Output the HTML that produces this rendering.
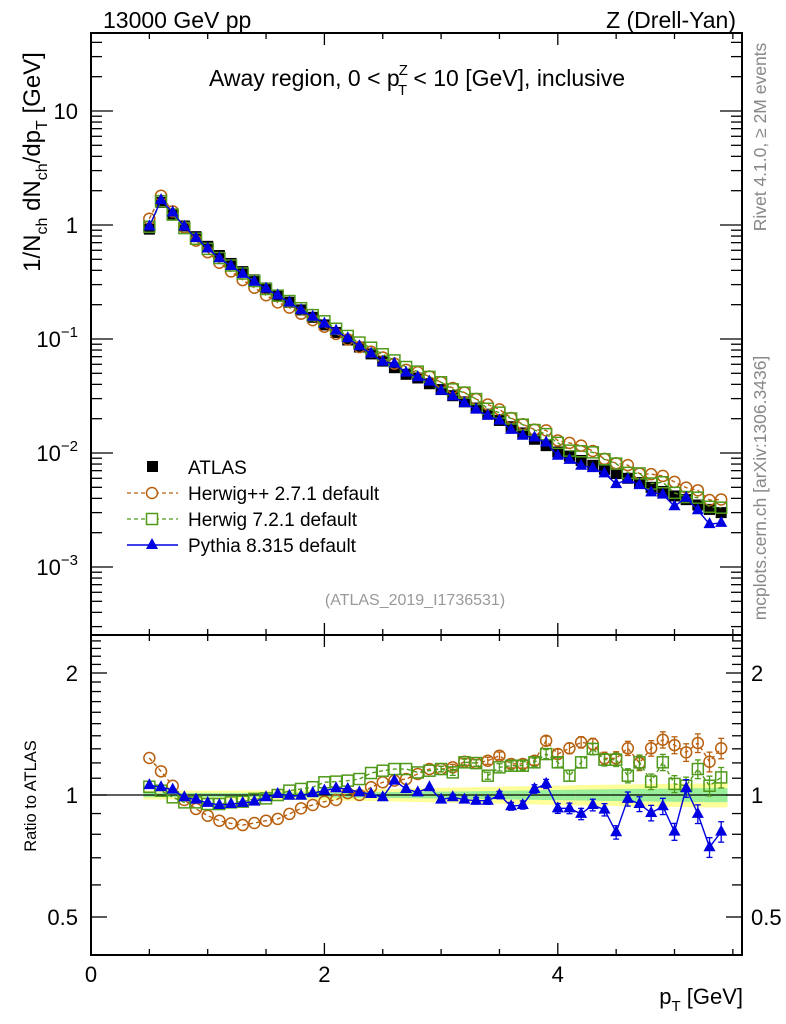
<!DOCTYPE html>
<html><head><meta charset="utf-8"><style>
html,body{margin:0;padding:0;background:#fff;}
svg{display:block;font-family:"Liberation Sans",Arial,sans-serif;}
</style></head><body>
<svg id="chart" width="786" height="1024" viewBox="0 0 786 1024">
<g id="bands"></g>
<g id="series"></g>
<g id="axes"></g>
<text x="103" y="28" font-size="23">13000 GeV pp</text>
<text x="736" y="28" font-size="23" text-anchor="end">Z (Drell-Yan)</text>
<text x="417" y="86" font-size="23" text-anchor="middle">Away region, 0 &lt; p<tspan font-size="15" dy="-11" dx="-1">Z</tspan><tspan font-size="15" dy="20" dx="-10">T</tspan><tspan dy="-9"> &lt; 10 [GeV], inclusive</tspan></text>
<text transform="translate(40,162) rotate(-90)" font-size="24" text-anchor="middle">1/N<tspan font-size="16" dy="7">ch</tspan><tspan dy="-7"> dN</tspan><tspan font-size="16" dy="7">ch</tspan><tspan dy="-7">/dp</tspan><tspan font-size="16" dy="7">T</tspan><tspan dy="-7"> [GeV]</tspan></text>
<text transform="translate(36,796) rotate(-90)" font-size="16.5" text-anchor="middle">Ratio to ATLAS</text>
<text x="743" y="1004" font-size="22" text-anchor="end">p<tspan font-size="15" dy="7">T</tspan><tspan dy="-7"> [GeV]</tspan></text>
<text transform="translate(766,137) rotate(-90)" font-size="17.5" fill="#888" text-anchor="middle">Rivet 4.1.0, ≥ 2M events</text>
<text transform="translate(766,488) rotate(-90)" font-size="17.5" fill="#888" text-anchor="middle">mcplots.cern.ch [arXiv:1306.3436]</text>
<text x="415" y="605" font-size="16" fill="#999" text-anchor="middle">(ATLAS_2019_I1736531)</text>
<g id="legend">
 <g><rect x="147" y="461" width="11" height="11" fill="#000"/><text x="188" y="474" font-size="19">ATLAS</text></g>
 <g><line x1="127" y1="493" x2="178" y2="493" stroke="#b8600e" stroke-width="1.3" stroke-dasharray="4,3"/><circle cx="152" cy="493" r="5.5" fill="#fff" stroke="#b8600e" stroke-width="1.5"/><text x="188" y="500" font-size="19">Herwig++ 2.7.1 default</text></g>
 <g><line x1="127" y1="519" x2="178" y2="519" stroke="#4f9a1a" stroke-width="1.3" stroke-dasharray="4,3"/><rect x="146.5" y="513.5" width="11" height="11" fill="#fff" stroke="#4f9a1a" stroke-width="1.5"/><text x="188" y="526" font-size="19">Herwig 7.2.1 default</text></g>
 <g><line x1="127" y1="545" x2="178" y2="545" stroke="#0000e0" stroke-width="1.5"/><polygon points="152,538 158,549 146,549" fill="#0000e0"/><text x="188" y="552" font-size="19">Pythia 8.315 default</text></g>
</g>
</svg>
<script>
const xVals=[0.5,0.6,0.7,0.8,0.9,1.0,1.1,1.2,1.3,1.4,1.5,1.6,1.7,1.8,1.9,2.0,2.1,2.2,2.3,2.4,2.5,2.6,2.7,2.8,2.9,3.0,3.1,3.2,3.3,3.4,3.5,3.6,3.7,3.8,3.9,4.0,4.1,4.2,4.3,4.4,4.5,4.6,4.7,4.8,4.9,5.0,5.1,5.2,5.3,5.4];
const atlasVals=[0.92,1.58,1.25,0.98,0.79,0.65,0.54,0.46,0.39,0.33,0.28,0.24,0.21,0.18,0.155,0.133,0.114,0.098,0.085,0.074,0.064,0.056,0.049,0.0455,0.0405,0.036,0.0318,0.0281,0.0248,0.0219,0.0193,0.017,0.015,0.0132,0.0116,0.0102,0.0094,0.0086,0.0078,0.0072,0.0066,0.006,0.0055,0.005,0.0046,0.0042,0.0039,0.0035,0.0032,0.003];
const herwigppRatio=[1.234,1.144,1.054,0.972,0.924,0.889,0.864,0.851,0.843,0.853,0.864,0.873,0.898,0.927,0.945,0.963,0.972,1.011,1.0,1.045,1.075,1.085,1.095,1.127,1.159,1.159,1.17,1.208,1.199,1.215,1.25,1.193,1.193,1.215,1.361,1.262,1.304,1.349,1.336,1.232,1.232,1.304,1.199,1.304,1.369,1.328,1.274,1.344,1.208,1.304];
const herwig7Ratio=[1.048,1.025,0.987,0.959,0.959,0.95,0.95,0.959,0.963,0.978,0.981,1.0,1.025,1.035,1.045,1.075,1.079,1.085,1.095,1.133,1.148,1.159,1.159,1.137,1.148,1.159,1.137,1.204,1.199,1.116,1.17,1.181,1.181,1.204,1.262,1.204,1.116,1.204,1.299,1.222,1.222,1.116,1.204,1.079,1.204,1.065,1.054,1.159,1.054,1.105];
const pythiaRatio=[1.058,1.045,1.031,0.987,0.974,0.956,0.945,0.95,0.956,0.963,0.987,1.006,0.996,0.996,1.011,1.025,1.039,1.035,1.015,1.006,0.987,1.085,1.035,1.015,1.045,0.974,0.987,0.974,0.968,0.968,1.0,0.938,0.945,1.035,1.065,0.927,0.927,0.898,0.945,0.92,0.809,0.978,0.95,0.903,0.938,0.812,1.039,0.898,0.743,0.812];
const mcRelErr=[0.004,0.004,0.004,0.004,0.004,0.004,0.005,0.005,0.005,0.005,0.006,0.006,0.006,0.007,0.007,0.008,0.008,0.009,0.009,0.01,0.011,0.012,0.013,0.014,0.015,0.016,0.017,0.018,0.019,0.02,0.021,0.022,0.023,0.024,0.026,0.028,0.03,0.032,0.033,0.035,0.038,0.04,0.042,0.044,0.046,0.048,0.05,0.053,0.056,0.058];
const bandGreen=[0.012,0.012,0.012,0.012,0.012,0.012,0.012,0.012,0.012,0.012,0.013,0.013,0.013,0.013,0.014,0.014,0.014,0.015,0.015,0.016,0.016,0.017,0.018,0.018,0.019,0.02,0.02,0.021,0.022,0.023,0.024,0.025,0.026,0.027,0.028,0.029,0.03,0.031,0.032,0.033,0.034,0.035,0.036,0.036,0.037,0.038,0.038,0.039,0.04,0.04];
const bandYellow=[0.025,0.025,0.025,0.025,0.025,0.025,0.025,0.025,0.026,0.026,0.027,0.027,0.028,0.028,0.029,0.03,0.031,0.032,0.033,0.034,0.035,0.036,0.038,0.039,0.04,0.042,0.043,0.044,0.046,0.047,0.048,0.05,0.051,0.052,0.054,0.055,0.056,0.058,0.059,0.06,0.061,0.062,0.063,0.064,0.065,0.066,0.066,0.067,0.068,0.068];
const xTickLabels=["0","2","4"];
const mainTickLabels=["10","1"];

const NS="http://www.w3.org/2000/svg";
const L=91,R=742,T=33,MID=635,B=955;
const xMin=0,xMax=(R-L)/116.7;
function X(v){return L+(v-xMin)/(xMax-xMin)*(R-L);}
function Y(v){return 225-114*Math.log10(v);}
function YR(r){return 795-122*Math.log2(r);}
function mk(tag,attrs,parent){const e=document.createElementNS(NS,tag);for(const k in attrs)e.setAttribute(k,attrs[k]);parent.appendChild(e);return e;}
const axes=document.getElementById('axes'),series=document.getElementById('series'),bands=document.getElementById('bands');

const bw=0.05;
for(let i=0;i<xVals.length;i++){
  const x0=X(xVals[i]-bw),x1=X(xVals[i]+bw);
  const y=mk('rect',{x:x0,y:YR(1+bandYellow[i]),width:x1-x0+0.5,height:YR(1-bandYellow[i])-YR(1+bandYellow[i]),fill:'#ffff99'},bands);
  
  
  const g=mk('rect',{x:x0,y:YR(1+bandGreen[i]),width:x1-x0+0.5,height:YR(1-bandGreen[i])-YR(1+bandGreen[i]),fill:'#99ee99'},bands);
  
  
}
const one=mk('line',{x1:L,x2:R,y1:YR(1),y2:YR(1),stroke:'#000','stroke-width':1.3},bands);



function marker(kind,cx,cy,color,g){
  let m;
  if(kind==='sq') m=mk('rect',{x:cx-5.5,y:cy-5.5,width:11,height:11,fill:'#000'},g);
  else if(kind==='osq') m=mk('rect',{x:cx-5.5,y:cy-5.5,width:11,height:11,fill:'none',stroke:color,'stroke-width':1.5},g);
  else if(kind==='circ') m=mk('circle',{cx:cx,cy:cy,r:5.5,fill:'none',stroke:color,'stroke-width':1.5},g);
  else m=mk('polygon',{points:`${cx},${cy-7} ${cx+6},${cy+4} ${cx-6},${cy+4}`,fill:color},g);
  return m;
}
function drawSeries(name,vals,yf,kind,color,dash,errs){
  const g=mk('g',{},series);
  
  
  if(kind!=='sq'){
    const pts=vals.map((v,i)=>X(xVals[i])+','+yf(v)).join(' ');
    const pl=mk('polyline',{points:pts,fill:'none',stroke:color,'stroke-width':1.4},g);
    if(dash)pl.setAttribute('stroke-dasharray','4,3');
  }
  vals.forEach((v,i)=>{
    const cx=X(xVals[i]),cy=yf(v);
    if(errs&&errs[i]>0.015){
      const y1=yf(v*(1+errs[i])),y2=yf(v*(1-errs[i]));
      mk('line',{x1:cx,x2:cx,y1:y1,y2:y2,stroke:color,'stroke-width':1.3},g);
      mk('line',{x1:cx-3,x2:cx+3,y1:y1,y2:y1,stroke:color,'stroke-width':1.3},g);
      mk('line',{x1:cx-3,x2:cx+3,y1:y2,y2:y2,stroke:color,'stroke-width':1.3},g);
    }
    const m=marker(kind,cx,cy,color,g);
    
    
  });
}
const herwigppMain=atlasVals.map((a,i)=>a*herwigppRatio[i]);
const herwig7Main=atlasVals.map((a,i)=>a*herwig7Ratio[i]);
const pythiaMain=atlasVals.map((a,i)=>a*pythiaRatio[i]);
drawSeries('atlas-data',atlasVals,Y,'sq','#000',false,null);
drawSeries('herwigpp-main',herwigppMain,Y,'circ','#b8600e',true,null);
drawSeries('herwig7-main',herwig7Main,Y,'osq','#4f9a1a',true,null);
drawSeries('pythia-main',pythiaMain,Y,'tri','#0000e0',false,null);
drawSeries('herwigpp-ratio',herwigppRatio,YR,'circ','#b8600e',true,mcRelErr);
drawSeries('herwig7-ratio',herwig7Ratio,YR,'osq','#4f9a1a',true,mcRelErr);
drawSeries('pythia-ratio',pythiaRatio,YR,'tri','#0000e0',false,mcRelErr);

[[T,MID],[MID,B]].forEach(([t,b],k)=>{
  const f=mk('rect',{x:L,y:t,width:R-L,height:b-t,fill:'none',stroke:'#000','stroke-width':2},axes);
  
  
  for(let v=0;v<=xMax+1e-9;v+=0.5){
    const maj=Math.abs(v-Math.round(v/2)*2)<1e-9, len=maj?12:6, x=X(v);
    mk('line',{x1:x,x2:x,y1:b,y2:b-len,stroke:'#000','stroke-width':1.3},axes);
    mk('line',{x1:x,x2:x,y1:t,y2:t+len,stroke:'#000','stroke-width':1.3},axes);
  }
});
for(let e=-4;e<=1;e++){
  for(let m=1;m<=9;m++){
    const v=m*Math.pow(10,e),y=Y(v);
    if(y<T||y>MID)continue;
    const len=m===1?22:11;
    mk('line',{x1:L,x2:L+len,y1:y,y2:y,stroke:'#000','stroke-width':1.3},axes);
    mk('line',{x1:R,x2:R-len,y1:y,y2:y,stroke:'#000','stroke-width':1.3},axes);
  }
}
mainTickLabels.forEach((s,i)=>{const t=mk('text',{x:78,y:Y(+s)+8,'font-size':22,'text-anchor':'end'},axes);t.textContent=s;
});
[-1,-2,-3].forEach(e=>{const t=mk('text',{x:78,y:Y(Math.pow(10,e))+8,'font-size':22,'text-anchor':'end'},axes);

t.innerHTML='10<tspan font-size="15" dy="-10">'+'−'+(-e)+'</tspan>';});
const rMinor=[0.4,0.6,0.7,0.8,0.9,1.1,1.2,1.3,1.4,1.5,1.6,1.7,1.8,1.9,2.1,2.2,2.3,2.4,2.5];
rMinor.forEach(r=>{const y=YR(r);if(y<MID||y>B)return;
  mk('line',{x1:L,x2:L+10,y1:y,y2:y,stroke:'#000','stroke-width':1.3},axes);
  mk('line',{x1:R,x2:R-10,y1:y,y2:y,stroke:'#000','stroke-width':1.3},axes);});
[0.5,1,2].forEach(r=>{const y=YR(r);
  mk('line',{x1:L,x2:L+16,y1:y,y2:y,stroke:'#000','stroke-width':1.3},axes);
  mk('line',{x1:R,x2:R-16,y1:y,y2:y,stroke:'#000','stroke-width':1.3},axes);
  const a=mk('text',{x:78,y:y+8,'font-size':22,'text-anchor':'end'},axes);a.textContent=String(r);
  
  const b=mk('text',{x:751,y:y+8,'font-size':22},axes);b.textContent=String(r);
  });
xTickLabels.forEach(s=>{const t=mk('text',{x:X(+s),y:982,'font-size':22,'text-anchor':'middle'},axes);t.textContent=s;
});
</script>
</body></html>
